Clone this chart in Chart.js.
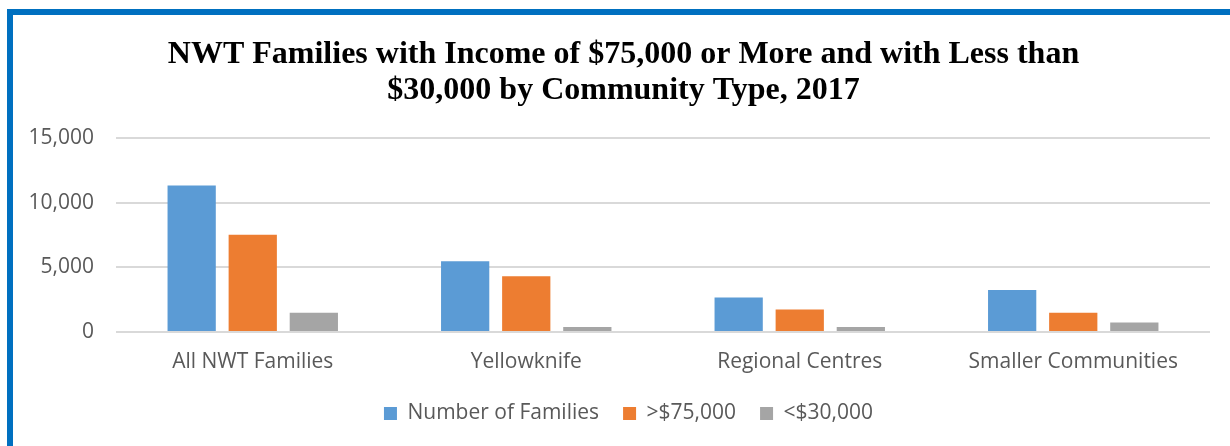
<!DOCTYPE html>
<html>
<head>
<meta charset="utf-8">
<script src="https://cdn.jsdelivr.net/npm/chart.js@4"></script>
<style>
  body { margin: 0; background: #fff; overflow: hidden; }
  #marco {
    position: absolute; left: 7px; top: 9px; width: 1217px; height: 431px;
    border-top: 6px solid #0070C0; border-left: 6px solid #0070C0;
  }
</style>
</head>
<body>
<div id="marco"><canvas id="Grafica" width="1217" height="431"></canvas></div>
<script>
// Datos del gráfico
const categorias = ["All NWT Families", "Yellowknife", "Regional Centres", "Smaller Communities"];
const numeroFamilias = [11330, 5470, 2660, 3250];
const mas75000 = [7520, 4320, 1740, 1480];
const menos30000 = [1480, 390, 390, 730];
const ticksY = [0, 5000, 10000, 15000];

const gris = "#595959";
const fuenteEje = { family: "'Open Sans'", size: 21 };

// Desplaza título y leyenda hacia la derecha como en el original
const desplazar = {
  id: "desplazar",
  afterLayout(chart) {
    chart.titleBlock.left += 12;
    chart.titleBlock.right += 12;
    chart.legend.left += 17;
    chart.legend.right += 17;
  },
};

new Chart(document.getElementById("Grafica"), {
  type: "bar",
  data: {
    labels: categorias,
    datasets: [
      { label: "Number of Families", data: numeroFamilias, backgroundColor: "#5B9BD5" },
      { label: ">$75,000", data: mas75000, backgroundColor: "#ED7D31" },
      { label: "<$30,000", data: menos30000, backgroundColor: "#A5A5A5" },
    ],
  },
  plugins: [desplazar],
  options: {
    responsive: false,
    animation: false,
    categoryPercentage: 0.67,
    barPercentage: 0.79,
    layout: { padding: { left: 0, right: 20, top: 0, bottom: 12 } },
    plugins: {
      title: {
        display: true,
        text: ["NWT Families with Income of $75,000 or More and with Less than", "$30,000 by Community Type, 2017"],
        color: "#000",
        font: { family: "'Liberation Serif'", size: 32, weight: "bold", lineHeight: 1.125 },
        padding: { top: 22, bottom: 29 },
      },
      legend: {
        position: "bottom",
        labels: { boxWidth: 13, boxHeight: 13, color: gris, font: fuenteEje, padding: 24 },
      },
      tooltip: { enabled: false },
    },
    scales: {
      x: {
        afterFit: (s) => { s.height = 47; },
        grid: { display: false },
        border: { display: false },
        ticks: { color: gris, font: fuenteEje, padding: 9 },
      },
      y: {
        min: 0,
        max: 15000,
        afterBuildTicks: (s) => { s.ticks = ticksY.map((v) => ({ value: v })); },
        afterFit: (s) => { s.width = 103; },
        grid: { color: "#d9d9d9", lineWidth: 2, drawTicks: false },
        border: { display: false },
        ticks: { color: gris, font: fuenteEje, padding: 22, callback: (v) => v.toLocaleString("en-US") },
      },
    },
  },
});
</script>
</body>
</html>
